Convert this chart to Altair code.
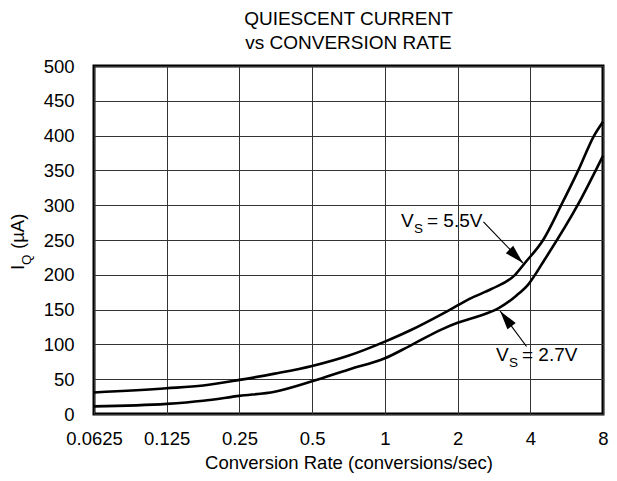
import altair as alt
import pandas as pd

# ---- data ----
rate_55 = [0.0625, 0.125, 0.177, 0.25, 0.35, 0.5, 0.71, 1, 1.27, 1.73, 2, 2.23, 2.78, 3.46, 3.8, 4.52, 5.37, 6.32, 7.35, 8]
iq_55 = [31, 37, 41, 49, 58, 69, 84, 104, 120, 144, 156, 165, 180, 200, 217, 250, 300, 350, 400, 420]

rate_27 = [0.0625, 0.125, 0.177, 0.25, 0.35, 0.5, 0.71, 1, 1.27, 1.73, 2, 2.37, 2.96, 3.5, 3.92, 4.59, 6.28, 8]
iq_27 = [11, 14.5, 19, 26, 32, 47, 64, 80, 98, 122, 131, 139, 152, 170, 186, 222, 300, 371]

x_ticks = [0.0625, 0.125, 0.25, 0.5, 1, 2, 4, 8]
y_ticks = [0, 50, 100, 150, 200, 250, 300, 350, 400, 450, 500]
title_lines = ["QUIESCENT CURRENT", "vs CONVERSION RATE"]
x_title = "Conversion Rate (conversions/sec)"

# arrow annotations (tail -> tip, data coordinates)
arrow_tail_x = [2.56, 3.86]
arrow_tail_y = [276, 97]
arrow_tip_x = [3.73, 3.0]
arrow_tip_y = [217, 148]

FONT = "Liberation Sans"
W, H = 509, 348
FS = 18.5

curves = pd.DataFrame({
    "rate": rate_55 + rate_27,
    "iq": iq_55 + iq_27,
    "series": ["5.5V"] * len(rate_55) + ["2.7V"] * len(rate_27),
})
arrows = pd.DataFrame({"x": arrow_tail_x, "y": arrow_tail_y, "x2": arrow_tip_x, "y2": arrow_tip_y})

xscale = alt.Scale(type="log", base=2, domain=[0.0625, 8], nice=False)
yscale = alt.Scale(domain=[0, 500], nice=False)
x_axis = alt.Axis(values=x_ticks, format="~g", labelPadding=15, title=x_title,
                  titleFont=FONT, titleFontSize=FS, titleFontWeight="normal",
                  titlePadding=6, labelFlush=False, labelOverlap=False)
y_axis = alt.Axis(values=y_ticks, title=None, labelPadding=20, labelOverlap=False)

lines = alt.Chart(curves).mark_line(color="black", strokeWidth=2.6, interpolate="monotone").encode(
    x=alt.X("rate:Q", scale=xscale, axis=x_axis),
    y=alt.Y("iq:Q", scale=yscale, axis=y_axis),
    detail="series:N",
)

rules = alt.Chart(arrows).mark_rule(color="black", strokeWidth=1.2).encode(
    x=alt.X("x:Q", scale=xscale, axis=x_axis), y=alt.Y("y:Q", scale=yscale, axis=y_axis),
    x2="x2:Q", y2="y2:Q",
)

HEAD = "M0,0L0.6,2.2L-0.6,2.2Z"
heads = []
for i, ang in enumerate([135, 323]):
    heads.append(
        alt.Chart(arrows.iloc[[i]]).mark_point(shape=HEAD, filled=True, size=300, color="black",
                                               opacity=1, angle=ang, strokeWidth=0).encode(
            x=alt.X("x2:Q", scale=xscale, axis=x_axis), y=alt.Y("y2:Q", scale=yscale, axis=y_axis))
    )


def txt(s, x, y, size=FS, angle=0):
    return alt.Chart(pd.DataFrame({"t": [s]})).mark_text(
        font=FONT, fontSize=size, align="left", baseline="alphabetic", angle=angle, color="black"
    ).encode(x=alt.value(x), y=alt.value(y), text="t:N")


labels = [
    txt("V", 307, 161, size=19), txt("S", 320, 167, size=13.5), txt("= 5.5V", 333, 161, size=19),
    txt("V", 402, 295, size=19), txt("S", 415, 301, size=13.5), txt("= 2.7V", 428, 295, size=19),
    # y axis title  I_Q (µA)
    txt("I", -70, 204, angle=270), txt("Q", -63, 199, size=13.5, angle=270),
    txt("(µA)", -70, 183, angle=270),
]

chart = alt.layer(lines, rules, *heads, *labels).properties(
    width=W, height=H,
    title=alt.TitleParams(title_lines, font=FONT, fontSize=19, fontWeight="normal",
                          anchor="middle", offset=4, lineHeight=24, color="black", frame="group"),
    padding={"left": 86, "top": 58, "right": 6, "bottom": 59},
    autosize="none",
).configure_view(stroke="black", strokeWidth=3).configure_axis(
    grid=True, gridColor="#333333", gridWidth=1, gridOpacity=1,
    domain=False, ticks=False, labelFont=FONT, labelFontSize=FS, labelColor="black",
    titleColor="black",
)

chart.save("out.html", embed_options={"renderer": "svg", "actions": False})
